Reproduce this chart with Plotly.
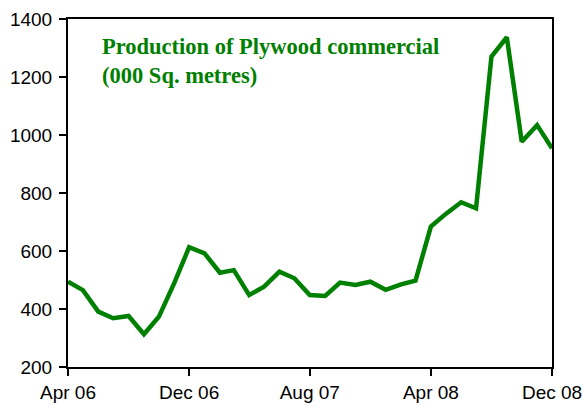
import plotly.graph_objects as go

months = ["2006-04-01", "2006-05-01", "2006-06-01", "2006-07-01", "2006-08-01", "2006-09-01",
          "2006-10-01", "2006-11-01", "2006-12-01", "2007-01-01", "2007-02-01", "2007-03-01",
          "2007-04-01", "2007-05-01", "2007-06-01", "2007-07-01", "2007-08-01", "2007-09-01",
          "2007-10-01", "2007-11-01", "2007-12-01", "2008-01-01", "2008-02-01", "2008-03-01",
          "2008-04-01", "2008-05-01", "2008-06-01", "2008-07-01", "2008-08-01", "2008-09-01",
          "2008-10-01", "2008-11-01", "2008-12-01"]
production = [494, 465, 391, 368, 376, 313, 373, 489, 613, 592, 525, 534,
              448, 477, 529, 506, 448, 445, 491, 483, 494, 466, 485, 498,
              684, 728, 768, 747, 1270, 1337, 977, 1034, 954]
tick_vals = ["2006-04-01", "2006-12-01", "2007-08-01", "2008-04-01", "2008-12-01"]
tick_text = ["Apr 06", "Dec 06", "Aug 07", "Apr 08", "Dec 08"]
y_ticks = [200, 400, 600, 800, 1000, 1200, 1400]

green = "#008000"

fig = go.Figure()
fig.add_trace(go.Scatter(x=months, y=production, mode="lines",
                         line=dict(color=green, width=4.5), hoverinfo="skip"))

fig.add_annotation(text="Production of Plywood commercial<br>(000 Sq. metres)",
                   xref="paper", yref="paper", x=0.066, y=0.962,
                   xanchor="left", yanchor="top", align="left", showarrow=False,
                   font=dict(family="Liberation Serif", size=22.5, color=green, weight="bold"))

axis_common = dict(showline=True, linecolor="black", linewidth=2, mirror=True,
                   showgrid=False, zeroline=False, ticks="outside", ticklen=7,
                   tickwidth=2, tickcolor="black", automargin=False,
                   tickfont=dict(family="Liberation Sans", size=19, color="black"))

fig.update_xaxes(type="date", range=["2006-04-01", "2008-12-01"],
                 tickvals=tick_vals, ticktext=tick_text, **axis_common)
fig.update_yaxes(range=[200, 1400], tickvals=y_ticks, ticklabelstandoff=3, **axis_common)

fig.update_layout(width=584, height=409, margin=dict(l=68, r=32, t=19, b=42),
                  paper_bgcolor="white", plot_bgcolor="white", showlegend=False)

fig.write_html("out.html", config={"displayModeBar": False, "staticPlot": True},
               post_script="document.body.style.margin='0';document.body.style.overflow='hidden';")
